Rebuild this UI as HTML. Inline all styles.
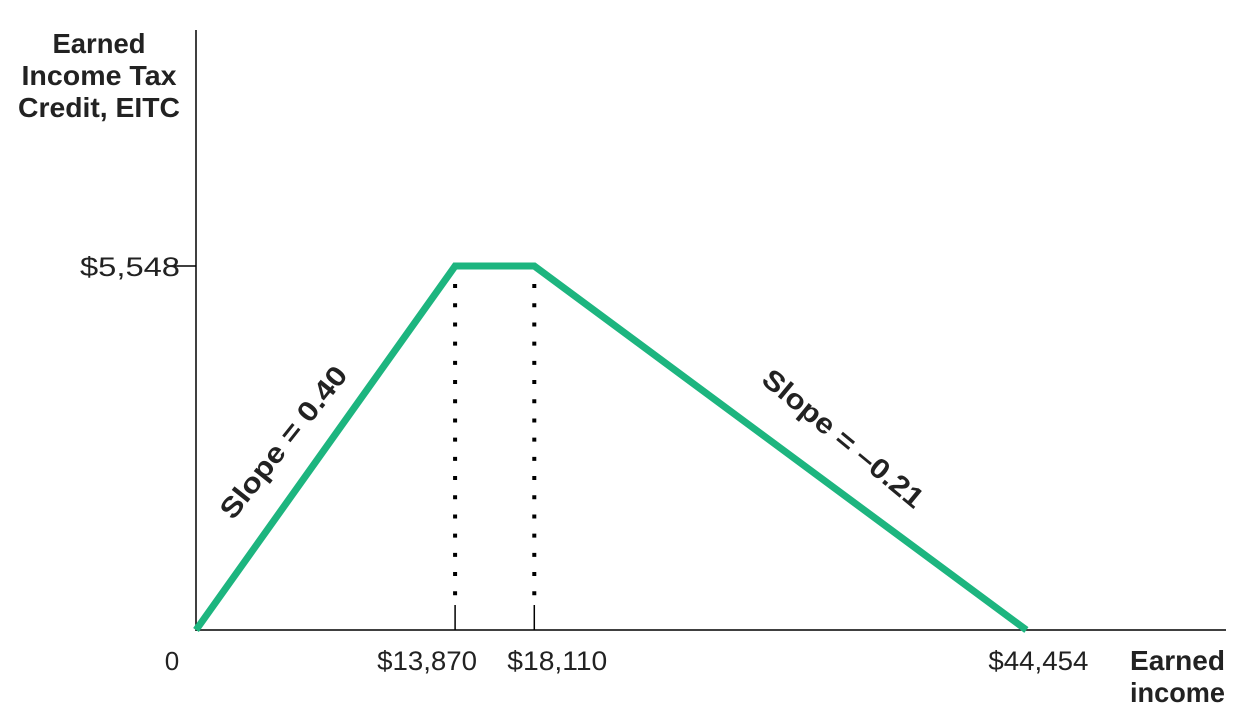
<!DOCTYPE html>
<html><head><meta charset="utf-8"><style>
body{margin:0;background:#fff;}
svg{display:block;font-family:"Liberation Sans",sans-serif;}
</style></head><body>
<svg id="chart" width="1244" height="718">
<g id="axes"></g>
<g id="marks"></g>
<g id="labels"></g>
</svg>
<script>
const incomePoints = [0, 13870, 18110, 44454];
const creditValues = [0, 5548, 5548, 0];
const xTickLabels = ["$13,870", "$18,110", "$44,454"];
const yTickValues = [5548];
const yTickLabels = ["$5,548"];
const slopeLabels = ["Slope = 0.40", "Slope = \u20130.21"];

const NS = "http://www.w3.org/2000/svg";
const x0 = 196, y0 = 630;
const xs = v => x0 + v * 0.01868;
const ys = v => y0 - v * 0.0656;
function mk(tag, attrs, parent, text){
  const e = document.createElementNS(NS, tag);
  for (const k in attrs) e.setAttribute(k, attrs[k]);
  if (text !== undefined) e.textContent = text;
  parent.appendChild(e);
  return e;
}
const axes = document.getElementById('axes');
const marks = document.getElementById('marks');
const labels = document.getElementById('labels');

let ya = mk('line',{x1:x0,y1:30,x2:x0,y2:y0+1,stroke:'#000','stroke-width':1.5},axes);


let xa = mk('line',{x1:x0,y1:y0,x2:1226,y2:y0,stroke:'#000','stroke-width':1.5},axes);



yTickValues.forEach((v,i)=>{
  let t = mk('line',{x1:x0-26,y1:ys(v),x2:x0,y2:ys(v),stroke:'#000','stroke-width':1.5},axes);
  
  
  let l = mk('text',{x:80,y:ys(v)+10,'font-size':27,fill:'#222',textLength:100,lengthAdjust:'spacingAndGlyphs'},labels,yTickLabels[i]);
  
  
});

[1,2].forEach(i=>{
  const x = xs(incomePoints[i]);
  let d = mk('line',{x1:x,y1:ys(creditValues[i])+18,x2:x,y2:y0-28,stroke:'#000','stroke-width':4,'stroke-dasharray':'4 15.2'},marks);
  
  
});
incomePoints.slice(1).forEach((v,i)=>{
  const x = xs(v);
  if (i<2){
    let t = mk('line',{x1:x,y1:y0-25,x2:x,y2:y0,stroke:'#000','stroke-width':1.5},axes);
    
    
  }
  const left = i==0 ? x-78 : (i==1 ? x-27 : x-38);
  let l = mk('text',{x:left,y:y0+40,'font-size':27,fill:'#222',textLength:100,lengthAdjust:'spacingAndGlyphs'},labels,xTickLabels[i]);
  
  
});
let z = mk('text',{x:172,y:y0+40,'text-anchor':'middle','font-size':26,fill:'#222'},labels,'0');



const pts = incomePoints.map((v,i)=>xs(v)+','+ys(creditValues[i])).join(' ');
let pl = mk('polyline',{points:pts,fill:'none',stroke:'#1db57f','stroke-width':7,'stroke-linejoin':'miter'},marks);



let s1 = mk('text',{x:0,y:0,'font-size':28,'font-weight':'bold',fill:'#222',textLength:186,lengthAdjust:'spacingAndGlyphs',transform:'translate(233,521) rotate(-51.5)'},labels,slopeLabels[0]);


let s2 = mk('text',{x:0,y:0,'font-size':28,'font-weight':'bold',fill:'#222',textLength:200,lengthAdjust:'spacingAndGlyphs',transform:'translate(760,382) rotate(39.6)'},labels,slopeLabels[1]);



[['Earned',93],['Income Tax',155],['Credit, EITC',162]].forEach((t,i)=>{
  let l = mk('text',{x:99,y:53+i*32,'text-anchor':'middle','font-size':28,'font-weight':'bold',fill:'#222',textLength:t[1],lengthAdjust:'spacingAndGlyphs'},labels,t[0]);
  
  
});
[['Earned',95],['income',95]].forEach((t,i)=>{
  let l = mk('text',{x:1225,y:670+i*32,'text-anchor':'end','font-size':28,'font-weight':'bold',fill:'#222',textLength:t[1],lengthAdjust:'spacingAndGlyphs'},labels,t[0]);
  
  
});
</script>
</body></html>
